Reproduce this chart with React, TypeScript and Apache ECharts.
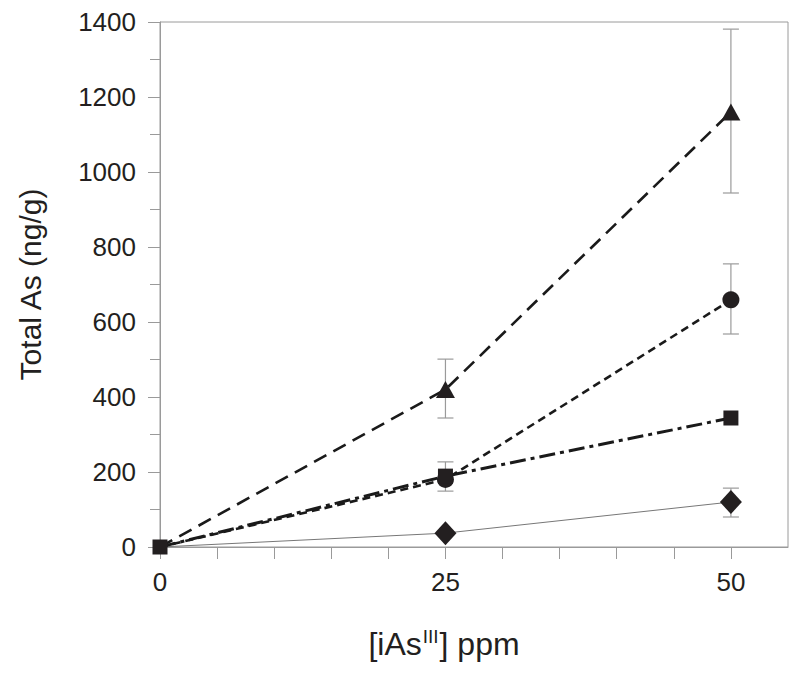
import React, { useEffect, useRef } from "react";
import * as echarts from "echarts";

const doses = [0, 25, 50];
const triangleVals = [0, 420, 1160];
const circleVals = [0, 180, 659];
const squareVals = [0, 189, 344];
const diamondVals = [0, 37, 120];

// [dose, low, high]
const errorBars = [
  [25, 344, 501],
  [50, 944, 1381],
  [25, 149, 227],
  [50, 568, 755],
  [50, 80, 157],
];

const yTicks = { min: 0, max: 1400, interval: 200 };
const xTicks = { min: 0, max: 55, interval: 5 };
const xLabelled = [0, 25, 50];

const FONT = "'Liberation Sans', Arial, Helvetica, sans-serif";
const INK = "#231f20";
const GRAY = "#9a9a9a";

export default function App() {
  const ref = useRef<HTMLDivElement>(null);
  useEffect(() => {
    if (!ref.current) return;
    const chart = echarts.init(ref.current, null, { renderer: "svg" });
    // at dose 0 only the square marker is visible (others hidden beneath it)
    const pts = (vals: number[], showFirst: boolean) =>
      doses.map((d, i) =>
        i === 0 && !showFirst ? { value: [d, vals[i]], symbol: "none" } : { value: [d, vals[i]] }
      );
    chart.setOption({
      animation: false,
      backgroundColor: "#ffffff",
      grid: {
        left: 160,
        right: 12,
        top: 22,
        bottom: 128,
        show: true,
        borderColor: GRAY,
        borderWidth: 1,
      },
      xAxis: {
        type: "value",
        min: xTicks.min,
        max: xTicks.max,
        interval: xTicks.interval,
        name: "[iAs{sup|III}] ppm",
        nameLocation: "middle",
        nameGap: 80,
        nameTextStyle: {
          fontSize: 32,
          fontFamily: FONT,
          color: INK,
          padding: [0, 60, 0, 0],
          rich: {
            sup: { fontSize: 19, fontFamily: FONT, color: INK, verticalAlign: "top", padding: [0, 1, 14, 1] },
          },
        },
        axisLine: { show: true, lineStyle: { color: GRAY, width: 1 } },
        axisTick: { show: true, inside: false, length: 12, lineStyle: { color: GRAY, width: 1 } },
        splitLine: { show: false },
        axisLabel: {
          margin: 22,
          fontSize: 26,
          fontFamily: FONT,
          color: INK,
          showMaxLabel: false,
          formatter: (v: number) => (xLabelled.includes(v) ? String(v) : ""),
        },
      },
      yAxis: {
        type: "value",
        min: yTicks.min,
        max: yTicks.max,
        interval: yTicks.interval,
        name: "Total As (ng/g)",
        nameLocation: "middle",
        nameRotate: 90,
        nameGap: 115,
        nameTextStyle: { fontSize: 30, fontFamily: FONT, color: INK },
        axisLine: { show: true, lineStyle: { color: GRAY, width: 1 } },
        axisTick: { show: true, inside: false, length: 12, lineStyle: { color: GRAY, width: 1 } },
        minorTick: { show: true, splitNumber: 2, length: 10, lineStyle: { color: GRAY, width: 1 } },
        splitLine: { show: false },
        minorSplitLine: { show: false },
        axisLabel: {
          margin: 24,
          fontSize: 26,
          fontFamily: FONT,
          color: INK,
          formatter: (v: number) => String(v),
        },
      },
      series: [
        {
          type: "custom",
          z: 1,
          silent: true,
          data: errorBars,
          renderItem: (params: any, api: any) => {
            const x = api.value(0);
            const lo = api.coord([x, api.value(1)]);
            const hi = api.coord([x, api.value(2)]);
            const w = 8;
            const style = { stroke: GRAY, lineWidth: 1.2 };
            return {
              type: "group",
              children: [
                { type: "line", shape: { x1: lo[0], y1: lo[1], x2: hi[0], y2: hi[1] }, style },
                { type: "line", shape: { x1: lo[0] - w, y1: lo[1], x2: lo[0] + w, y2: lo[1] }, style },
                { type: "line", shape: { x1: hi[0] - w, y1: hi[1], x2: hi[0] + w, y2: hi[1] }, style },
              ],
            };
          },
        },
        {
          name: "diamond",
          type: "line",
          z: 2,
          data: pts(diamondVals, false),
          symbol: "diamond",
          symbolSize: [22, 24],
          itemStyle: { color: INK },
          lineStyle: { color: "#777", width: 1 },
        },
        {
          name: "triangle",
          type: "line",
          z: 3,
          data: pts(triangleVals, false),
          symbol: "triangle",
          symbolSize: [19, 17],
          itemStyle: { color: INK },
          lineStyle: { color: "#1a1a1a", width: 2.6, type: [14, 8] },
        },
        {
          name: "circle",
          type: "line",
          z: 4,
          data: pts(circleVals, false),
          symbol: "circle",
          symbolSize: 17,
          itemStyle: { color: INK },
          lineStyle: { color: "#1a1a1a", width: 2.6, type: [8, 5] },
        },
        {
          name: "square",
          type: "line",
          z: 5,
          data: pts(squareVals, true),
          symbol: "rect",
          symbolSize: 15,
          itemStyle: { color: INK },
          lineStyle: { color: "#1a1a1a", width: 3, type: [16, 5, 4, 5] },
        },
      ],
    });
    return () => chart.dispose();
  }, []);
  return (
    <div
      ref={ref}
      style={{ position: "fixed", left: 0, top: 0, width: 800, height: 675, background: "#fff" }}
    />
  );
}
